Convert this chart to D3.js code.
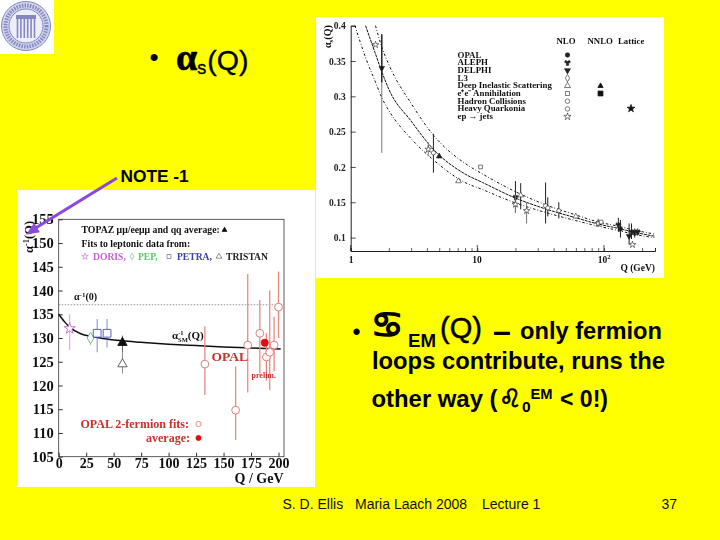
<!DOCTYPE html>
<html lang="en">
<head>
<meta charset="UTF-8">
<title>Running couplings</title>
<script src="https://d3js.org/d3.v7.min.js"></script>
<style>
  html, body { margin: 0; padding: 0; background: #ffff00; }
  svg { display: block; }
  text { font-family: "Liberation Sans", Arial, sans-serif; }
  .serif text, text.serif { font-family: "Liberation Serif", "Times New Roman", serif; }
</style>
</head>
<body>
<svg width="720" height="540"></svg>
<script>
// alpha_s(Q) panel
var sTicks = [0.1, 0.15, 0.2, 0.25, 0.3, 0.35, 0.4];
var curveQ = [1.08, 1.31, 1.57, 1.76, 2, 3, 4.5, 8, 11, 20, 34, 60, 91, 130, 180, 250];
var curveLow = [0.4, 0.355, 0.32, 0.298, 0.28, 0.24, 0.21, 0.178, 0.168, 0.149, 0.136, 0.124, 0.116, 0.110, 0.104, 0.1];
var curveMid = [null, 0.4, 0.36, 0.335, 0.31, 0.265, 0.225, 0.19, 0.178, 0.156, 0.141, 0.128, 0.119, 0.113, 0.107, 0.102];
var curveHigh = [null, null, 0.4, 0.37, 0.345, 0.29, 0.245, 0.205, 0.19, 0.165, 0.147, 0.132, 0.122, 0.116, 0.11, 0.105];
var sQ = [1.76, 1.57, 4.1, 4.5, 5, 7.1, 10.6, 20, 20, 22, 24.5, 34.6, 36, 44, 60, 90, 95, 130, 135, 158, 165, 168, 175, 185];
var sVal = [0.34, 0.373, 0.225, 0.22, 0.215, 0.18, 0.2, 0.157, 0.147, 0.16, 0.138, 0.145, 0.142, 0.138, 0.13, 0.12, 0.122, 0.118, 0.112, 0.102, 0.108, 0.09, 0.107, 0.108];
var sLow = [0.22, null, 0.215, 0.192, null, null, null, 0.135, 0.135, 0.14, 0.12, 0.12, 0.13, 0.127, null, 0.115, null, 0.108, 0.1, 0.09, 0.098, null, 0.1, 0.103];
var sHigh = [0.388, null, 0.235, 0.247, null, null, null, 0.18, 0.16, 0.177, 0.15, 0.178, 0.157, 0.15, null, 0.127, null, 0.128, 0.125, 0.12, 0.12, null, 0.113, 0.113];
var sKind = ["DELPHI", "ep", "ep", "Hadron", "NNLO", "DIS", "ee", "ALEPH", "ep", "DIS", "ep", "Hadron", "Quark", "Hadron", "DIS", "ep", "ee", "ALEPH", "OPAL", "DELPHI", "ALEPH", "ep", "ALEPH", "ALEPH"];
var sLegend = ["OPAL", "ALEPH", "DELPHI", "L3", "Deep Inelastic Scattering", "e\u207Ae\u207B Annihilation", "Hadron Collisions", "Heavy Quarkonia", "ep \u2192 jets"];
var sLegendKind = ["OPAL", "ALEPH", "DELPHI", "L3", "DIS", "ee", "Hadron", "Quark", "ep"];

// 1/alpha(Q) panel
var emTicks = [105, 110, 115, 120, 125, 130, 135, 140, 145, 150, 155];
var qTicks = [0, 25, 50, 75, 100, 125, 150, 175, 200];
var smQ = [0, 5, 10, 20, 30, 40, 58, 75, 100, 125, 150, 175, 202];
var smVal = [135, 133.5, 132.3, 130.9, 130.3, 129.9, 129.4, 129.1, 128.7, 128.4, 128.1, 127.9, 127.7];
var alpha0 = [137];
var lowQ = [10, 29, 35, 44, 58, 58];
var lowVal = [132, 130, 131, 131, 124.5, 129];
var lowMin = [127.5, 128.5, 127, 128, 122.5, 127];
var lowMax = [135, 131, 134, 134, 127, 130.5];
var lowKind = ["DORIS", "PEP", "PETRA", "PETRA", "TRISTAN", "TOPAZ"];
var opalQ = [133, 161, 172, 183, 189, 192, 196, 200];
var opalVal = [124.5, 114.8, 128.5, 131, 126, 127, 128.5, 136.5];
var opalMin = [118, 108.5, 118.5, 122.5, 121, 119, 123, 130];
var opalMax = [132.5, 124, 143.5, 138, 131, 140, 134.5, 144];
var opalAvgQ = [187.5];
var opalAvgVal = [129];

var svg = d3.select("svg");
var blur = svg.append("defs").append("filter").attr("id", "soft");
blur.append("feGaussianBlur").attr("stdDeviation", 0.35);

// the scanned seal, top left
var seal = svg.append("g").attr("filter", "url(#soft)");
seal.append("rect").attr("width", 54).attr("height", 54).attr("fill", "#fff");
var sealInk = "#8488c2";
seal.append("circle").attr("cx", 26).attr("cy", 26).attr("r", 24.5).attr("fill", "#d3d5ec").attr("stroke", sealInk).attr("stroke-width", 1);
seal.append("circle").attr("cx", 26).attr("cy", 26).attr("r", 20.5).attr("fill", "none").attr("stroke", sealInk).attr("stroke-width", 4).attr("stroke-dasharray", "1.5 1.2");
seal.append("circle").attr("cx", 26).attr("cy", 26).attr("r", 17).attr("fill", "#eeeef8").attr("stroke", sealInk).attr("stroke-width", 1);
seal.append("rect").attr("x", 16).attr("y", 15).attr("width", 20).attr("height", 4).attr("fill", sealInk);
seal.selectAll("line.col").data(d3.range(6)).enter().append("line")
    .attr("x1", function(d) { return 17.5 + d * 3.4; }).attr("x2", function(d) { return 17.5 + d * 3.4; })
    .attr("y1", 19).attr("y2", 38).attr("stroke", sealInk).attr("stroke-width", 1.6);

// ---------- alpha_s panel ----------
var p1 = svg.append("g").attr("class", "serif").attr("filter", "url(#soft)");
p1.append("rect").attr("x", 316).attr("y", 17).attr("width", 348).attr("height", 261).attr("fill", "#fff");

var xLog = d3.scaleLog().domain([1, 253]).range([350.7, 655]);
var yS = d3.scaleLinear().domain([0.081, 0.4]).range([251, 25.7]);

var logMinor = [1, 2, 3, 4, 5, 6, 7, 8, 9, 10, 20, 30, 40, 50, 60, 70, 80, 90, 100, 200];
var ax1 = d3.axisBottom(xLog).tickValues(logMinor)
    .tickSize(-3).tickPadding(5).tickFormat("");
p1.append("g").attr("transform", "translate(0,251)").call(ax1)
    .call(function(g) { g.selectAll("line").attr("stroke", "#222").attr("stroke-width", 0.7); })
    .call(function(g) { g.select(".domain").attr("stroke", "#222"); });
p1.selectAll("line.major").data([1, 10, 100]).enter().append("line")
    .attr("x1", function(d) { return xLog(d); }).attr("x2", function(d) { return xLog(d); })
    .attr("y1", 251).attr("y2", 245).attr("stroke", "#222").attr("stroke-width", 0.8);

var ay1 = d3.axisLeft(yS).tickValues(sTicks).tickSize(-5).tickPadding(5).tickFormat(d3.format("~g"));
p1.append("g").attr("transform", "translate(350.7,0)").call(ay1)
    .call(function(g) { g.selectAll("line").attr("stroke", "#222").attr("stroke-width", 0.8); })
    .call(function(g) { g.select(".domain").attr("stroke", "#222"); })
    .call(function(g) {
      g.selectAll("text").attr("font-size", 9.5).attr("font-weight", "bold")
        .attr("fill", "#222").style("font-family", "'Liberation Serif', serif");
    });

function plainText(g, x, y, str, size, anchor, weight, fill) {
  return g.append("text").attr("x", x).attr("y", y).text(str)
    .attr("font-size", size).attr("text-anchor", anchor || "start")
    .attr("font-weight", weight || "normal").attr("fill", fill || "#111");
}
plainText(p1, 351, 263, "1", 9.5, "middle", "bold");
plainText(p1, 477, 263, "10", 9.5, "middle", "bold");
var t102 = plainText(p1, 604, 263, "10", 9.5, "middle", "bold");
t102.append("tspan").attr("dy", -4).attr("font-size", 6.5).text("2");
plainText(p1, 655, 271, "Q (GeV)", 9.5, "end", "bold");

var yT = p1.append("text").attr("transform", "translate(331,48) rotate(-90)")
    .attr("font-size", 10).attr("font-weight", "bold").attr("fill", "#111").text("\u03B1");
yT.append("tspan").attr("dy", 2).attr("font-size", 7).text("s");
yT.append("tspan").attr("dy", -2).text("(Q)");

// curves
var lineS = d3.line()
    .defined(function(d) { return d[1] !== null; })
    .x(function(d) { return xLog(d[0]); })
    .y(function(d) { return yS(d[1]); })
    .curve(d3.curveMonotoneX);
[[curveLow, "2.5 2 0.8 2"], [curveMid, "3 0.8"], [curveHigh, "2.5 2 0.8 2"]].forEach(function(c) {
  p1.append("path")
    .attr("d", lineS(curveQ.map(function(q, i) { return [q, c[0][i]]; })))
    .attr("fill", "none").attr("stroke", "#111").attr("stroke-width", 1)
    .attr("stroke-dasharray", c[1]);
});

// open/filled symbol drawing shared by both panels
var symbolType = {
  circle: d3.symbolCircle, square: d3.symbolSquare, triangle: d3.symbolTriangle,
  diamond: d3.symbolDiamond, star: d3.symbolStar, cross: d3.symbolCross, wye: d3.symbolWye
};
function marker(g, x, y, type, size, filled, color, sw, flip) {
  return g.append("path")
    .attr("d", d3.symbol().type(symbolType[type]).size(size)())
    .attr("transform", "translate(" + x + "," + y + ")" + (flip ? " rotate(180)" : ""))
    .attr("fill", filled ? color : "#fff").attr("stroke", color).attr("stroke-width", sw || 0.8);
}
var kindStyle = {
  OPAL: ["circle", true], ALEPH: ["wye", true], DELPHI: ["triangle", true, true], L3: ["diamond", false],
  DIS: ["triangle", false], ee: ["square", false], Hadron: ["circle", false], Quark: ["circle", false],
  ep: ["star", false], NNLO: ["triangle", true]
};

sQ.forEach(function(q, i) {
  if (sLow[i] !== null) {
    p1.append("line").attr("x1", xLog(q)).attr("x2", xLog(q))
      .attr("y1", yS(sLow[i])).attr("y2", yS(sHigh[i]))
      .attr("stroke", i === 0 || sKind[i] === "ep" ? "#777" : "#222").attr("stroke-width", 1);
  }
  var st = kindStyle[sKind[i]];
  marker(p1, xLog(q), yS(sVal[i]), st[0], 14, st[1], "#222", 0.6, st[2]);
});
// the dark upper part of the first error bar
p1.append("line").attr("x1", xLog(sQ[0])).attr("x2", xLog(sQ[0]))
  .attr("y1", yS(0.32)).attr("y2", yS(sHigh[0])).attr("stroke", "#111").attr("stroke-width", 1.2);

// legend
plainText(p1, 556.5, 43.5, "NLO", 8.8, "start", "bold");
plainText(p1, 587.5, 43.5, "NNLO", 8.8, "start", "bold");
plainText(p1, 618, 43.5, "Lattice", 8.8, "start", "bold");
sLegend.forEach(function(name, i) {
  var y = 57.5 + i * 7.7;
  plainText(p1, 457.5, y, name, 8.85, "start", "bold");
  var st = kindStyle[sLegendKind[i]];
  marker(p1, 567.5, y - 2.5, st[0], 16, st[1], "#222", 0.6, st[2]);
});
marker(p1, 600.5, 86, "triangle", 12, true, "#111");
marker(p1, 600.5, 93.5, "square", 24, true, "#111");
marker(p1, 631, 108.5, "star", 18, true, "#111");

// ---------- alpha_EM panel ----------
var p2 = svg.append("g").attr("class", "serif").attr("filter", "url(#soft)");
p2.append("rect").attr("x", 17).attr("y", 190).attr("width", 298).attr("height", 297).attr("fill", "#fff");

var xEm = d3.scaleLinear().domain([0, 205]).range([58.7, 284]);
var yEm = d3.scaleLinear().domain([105, 155]).range([456.7, 219.3]);

p2.append("rect").attr("x", 58.7).attr("y", 219.3).attr("width", 225.3).attr("height", 237.4)
  .attr("fill", "none").attr("stroke", "#333").attr("stroke-width", 0.8);

var ax2 = d3.axisBottom(xEm).tickValues(qTicks).tickSize(-4).tickPadding(1).tickSizeOuter(0);
p2.append("g").attr("transform", "translate(0,456.7)").call(ax2)
  .call(function(g) { g.select(".domain").remove(); })
  .call(function(g) { g.selectAll("line").attr("stroke", "#333"); })
  .call(function(g) {
    g.selectAll("text").attr("font-size", 14).attr("font-weight", "bold").attr("fill", "#111")
      .style("font-family", "'Liberation Serif', serif");
  });
var ay2 = d3.axisLeft(yEm).tickValues(emTicks).tickSize(-4).tickPadding(5).tickSizeOuter(0);
p2.append("g").attr("transform", "translate(58.7,0)").call(ay2)
  .call(function(g) { g.select(".domain").remove(); })
  .call(function(g) { g.selectAll("line").attr("stroke", "#333"); })
  .call(function(g) {
    g.selectAll("text").attr("font-size", 14.5).attr("font-weight", "bold").attr("fill", "#111")
      .style("font-family", "'Liberation Serif', serif");
  });

plainText(p2, 283.5, 483, "Q / GeV", 14, "end", "bold");
var yT2 = p2.append("text").attr("transform", "translate(33,253) rotate(-90)")
  .attr("font-size", 12.5).attr("font-weight", "bold").attr("fill", "#111").text("\u03B1");
yT2.append("tspan").attr("dy", -4).attr("font-size", 8.5).text("-1");
yT2.append("tspan").attr("dy", 4).text("(Q)");

// reference line and the running curve
p2.append("line").attr("x1", xEm(0)).attr("x2", 284).attr("y1", yEm(alpha0[0])).attr("y2", yEm(alpha0[0]))
  .attr("stroke", "#666").attr("stroke-width", 0.7).attr("stroke-dasharray", "1.5 1.5");
var lineEm = d3.line()
  .x(function(d, i) { return xEm(smQ[i]); })
  .y(function(d) { return yEm(d); })
  .curve(d3.curveMonotoneX);
p2.append("path").attr("d", lineEm(smVal)).attr("fill", "none").attr("stroke", "#111").attr("stroke-width", 1.5);

var lowStyle = {
  DORIS: ["star", "#c86ad8", false], PEP: ["diamond", "#55c865", false],
  PETRA: ["square", "#4a50b8", false], TRISTAN: ["triangle", "#555", false], TOPAZ: ["triangle", "#111", true]
};
lowQ.forEach(function(q, i) {
  var st = lowStyle[lowKind[i]];
  p2.append("line").attr("x1", xEm(q)).attr("x2", xEm(q)).attr("y1", yEm(lowMin[i])).attr("y2", yEm(lowMax[i]))
    .attr("stroke", st[1]).attr("stroke-width", 0.9).attr("opacity", 0.75);
  marker(p2, xEm(q), yEm(lowVal[i]), st[0], st[0] === "square" ? 60 : 38, st[2], st[1], 0.9);
});

var opalRed = "#e0564f";
opalQ.forEach(function(q, i) {
  p2.append("line").attr("x1", xEm(q)).attr("x2", xEm(q)).attr("y1", yEm(opalMin[i])).attr("y2", yEm(opalMax[i]))
    .attr("stroke", "#e98a80").attr("stroke-width", 1.3);
});
opalQ.forEach(function(q, i) {
  marker(p2, xEm(q), yEm(opalVal[i]), "circle", 48, false, "#d9746a", 0.9);
});
opalAvgQ.forEach(function(q, i) {
  marker(p2, xEm(q), yEm(opalAvgVal[i]), "circle", 42, true, "#e01010", 0.6);
});

// annotations inside the plot
plainText(p2, 81.5, 233, "TOPAZ \u03BC\u03BC/ee\u03BC\u03BC and qq average:", 9.75, "start", "bold");
marker(p2, 224.5, 230, "triangle", 10, true, "#111");
plainText(p2, 81.5, 247, "Fits to leptonic data from:", 9.75, "start", "bold");
marker(p2, 85, 256.5, "star", 14, false, "#c86ad8", 0.6);
plainText(p2, 93, 260, "DORIS,", 9.6, "start", "bold", "#c85fd8");
marker(p2, 132, 256.5, "diamond", 12, false, "#55c865", 0.6);
plainText(p2, 138, 260, "PEP,", 9.6, "start", "bold", "#55c865");
marker(p2, 169, 256.5, "square", 16, false, "#4a50b8", 0.6);
plainText(p2, 177, 260, "PETRA,", 9.6, "start", "bold", "#3a40b0");
marker(p2, 219, 256.5, "triangle", 14, false, "#444", 0.6);
plainText(p2, 226, 260, "TRISTAN", 9.6, "start", "bold", "#222");

var a0 = plainText(p2, 74, 300, "\u03B1", 10, "start", "bold");
a0.append("tspan").attr("dy", -3).attr("font-size", 7).text("-1");
a0.append("tspan").attr("dy", 3).text("(0)");
var am = plainText(p2, 172, 339, "\u03B1", 11, "start", "bold");
am.append("tspan").attr("dy", -4).attr("dx", 0).attr("font-size", 6.5).text("-1");
am.append("tspan").attr("dy", 7).attr("dx", -5.5).attr("font-size", 6.5).text("SM");
am.append("tspan").attr("dy", -3).text("(Q)");

plainText(p2, 211.5, 361, "OPAL", 13.5, "start", "bold", "#c8302a");
plainText(p2, 251.5, 378, "prelim.", 8, "start", "bold", "#c8302a");
plainText(p2, 80.5, 428, "OPAL 2-fermion fits:", 12, "start", "bold", "#c8302a");
marker(p2, 198.5, 424, "circle", 22, false, "#d9746a", 0.8);
plainText(p2, 190, 442, "average:", 12, "end", "bold", "#c8302a");
marker(p2, 198.5, 438, "circle", 22, true, "#e01010", 0.5);

// ---------- slide text ----------
var noteColor = "#8a4ae0";
var ang = Math.atan2(234.5 - 178, 26 - 117);
svg.append("line").attr("x1", 117).attr("y1", 178).attr("x2", 34).attr("y2", 229)
  .attr("stroke", noteColor).attr("stroke-width", 3.2);
svg.append("path").attr("d", "M0,0 L-13,-5.5 L-13,5.5 Z").attr("fill", noteColor)
  .attr("transform", "translate(26,234.5) rotate(" + (ang * 180 / Math.PI) + ")");

plainText(svg, 120.5, 182, "NOTE -1", 17.3, "start", "bold", "#000");

plainText(svg, 149.5, 66, "\u2022", 26, "start", "normal", "#000");
var hd = svg.append("text").attr("x", 176).attr("y", 70).attr("font-size", 28.5).attr("fill", "#000")
  .attr("stroke", "#000").attr("stroke-width", 0.35);
hd.append("tspan").attr("font-weight", "bold").attr("font-family", "'Liberation Serif', serif").attr("font-size", 38).attr("stroke-width", 0.7).text("\u03B1");
hd.append("tspan").attr("font-size", 18).attr("dy", 4).text("s");
hd.append("tspan").attr("dy", -4).attr("dx", 1).text("(Q)");

plainText(svg, 352.5, 340, "\u2022", 23, "start", "normal", "#000");
plainText(svg, 371, 337, "\u264B", 36, "start", "bold", "#000")
  .style("font-family", "'DejaVu Sans', sans-serif").attr("stroke", "#000").attr("stroke-width", 1.6);
plainText(svg, 408, 347, "EM", 17.5, "start", "bold", "#000").attr("textLength", 28).attr("lengthAdjust", "spacingAndGlyphs");
plainText(svg, 440, 338, "(Q)", 29, "start", "normal", "#000").attr("stroke", "#000").attr("stroke-width", 0.5);
plainText(svg, 493, 342, "\u2013", 32, "start", "bold", "#000");
plainText(svg, 520, 339, "only fermion", 23.5, "start", "bold", "#000").attr("textLength", 142).attr("lengthAdjust", "spacingAndGlyphs");
plainText(svg, 372, 369, "loops contribute, runs the", 23.5, "start", "bold", "#000").attr("textLength", 293).attr("lengthAdjust", "spacingAndGlyphs");
plainText(svg, 371.5, 406.5, "other way (", 23.5, "start", "bold", "#000").attr("textLength", 126).attr("lengthAdjust", "spacingAndGlyphs");
plainText(svg, 499, 407, "\u264C", 25, "start", "bold", "#000")
  .style("font-family", "'DejaVu Sans', sans-serif").attr("stroke", "#000").attr("stroke-width", 0.9);
plainText(svg, 522, 411.5, "0", 15.5, "start", "bold", "#000");
plainText(svg, 530.5, 398.5, "EM", 15.5, "start", "bold", "#000").attr("textLength", 22).attr("lengthAdjust", "spacingAndGlyphs");
plainText(svg, 560, 406.5, "< 0!)", 23.5, "start", "bold", "#000").attr("textLength", 48).attr("lengthAdjust", "spacingAndGlyphs");

var foot = { x: 282.5, y: 509 };
plainText(svg, foot.x, foot.y, "S. D. Ellis", 14, "start", "normal", "#111");
plainText(svg, 355, foot.y, "Maria Laach 2008", 14, "start", "normal", "#111");
plainText(svg, 482, foot.y, "Lecture 1", 14, "start", "normal", "#111");
plainText(svg, 677, foot.y, "37", 14, "end", "normal", "#111");
</script>
</body>
</html>
